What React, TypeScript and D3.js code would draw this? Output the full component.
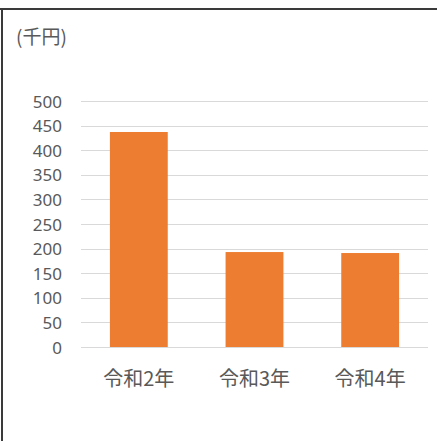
import React from "react";
import * as d3 from "d3";

const categories = ["令和2年", "令和3年", "令和4年"];
const values = [437, 193, 191];
const yTicks = [0, 50, 100, 150, 200, 250, 300, 350, 400, 450, 500];
const unitLabel = "(千円)";

export default function App() {
  const W = 437;
  const H = 441;
  const x = d3
    .scaleBand<string>()
    .domain(categories)
    .range([81, 428])
    .paddingInner(0.5)
    .paddingOuter(0.25);
  const y = d3.scaleLinear().domain([0, 500]).range([347, 101]);
  const textColor = "#595959";

  return (
    <svg
      width={W}
      height={H}
      style={{ position: "absolute", left: 0, top: 0, background: "#fff" }}
    >
      <rect x={0} y={0} width={W} height={H} fill="#fff" />
      <line x1={0} x2={W} y1={9} y2={9} stroke="#3a3a3a" strokeWidth={2} />
      <line x1={2} x2={2} y1={8} y2={H} stroke="#3a3a3a" strokeWidth={2} />

      <text
        x={16}
        y={35}
        fontFamily="'Noto Sans CJK JP', 'Noto Sans', sans-serif"
        fontSize={19}
        fill={textColor}
        dominantBaseline="central"
      >
        {unitLabel}
      </text>

      {yTicks.map((t) => (
        <g key={t}>
          <line
            x1={81}
            x2={428}
            y1={Math.round(y(t)) + 0.5}
            y2={Math.round(y(t)) + 0.5}
            stroke="#D9D9D9"
            strokeWidth={1}
          />
          <text
            x={62}
            y={y(t)}
            textAnchor="end"
            dominantBaseline="central"
            fontFamily="'Noto Sans', sans-serif"
            fontSize={17}
            fill={textColor}
          >
            {t}
          </text>
        </g>
      ))}

      {categories.map((c, i) => (
        <rect
          key={c}
          x={x(c)}
          y={y(values[i])}
          width={x.bandwidth()}
          height={y(0) - y(values[i])}
          fill="#ED7D31"
        />
      ))}

      {categories.map((c) => (
        <text
          key={c}
          x={(x(c) as number) + x.bandwidth() / 2}
          y={377}
          textAnchor="middle"
          dominantBaseline="central"
          fontFamily="'Noto Sans CJK JP', 'Noto Sans', sans-serif"
          fontSize={20}
          fill={textColor}
        >
          {c}
        </text>
      ))}
    </svg>
  );
}
